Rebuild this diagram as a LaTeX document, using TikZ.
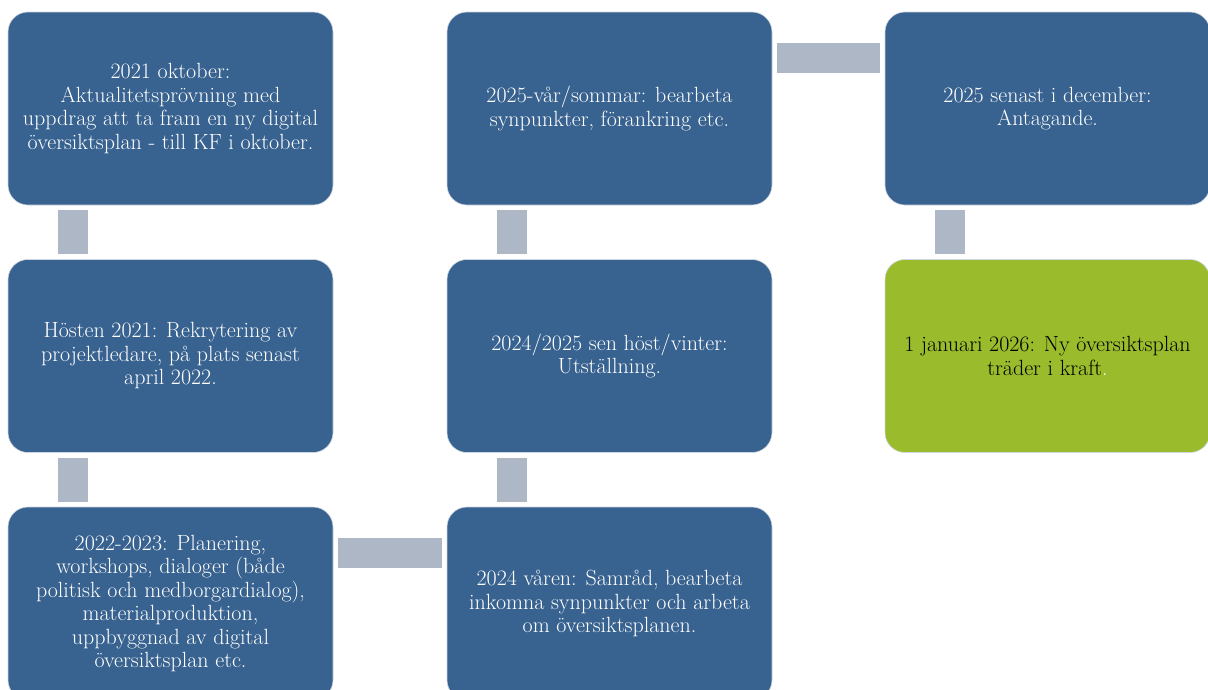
\documentclass[tikz,border=0pt]{standalone}
\usepackage{fontspec}
\definecolor{stepblue}{RGB}{56,98,143}
\definecolor{stepgreen}{RGB}{153,187,44}
\definecolor{bargray}{RGB}{173,183,198}
\definecolor{rimgray}{RGB}{205,213,224}
\tikzset{
  StepStyle/.style = { rectangle, rounded corners = 20pt, draw = rimgray,
                       line width = 0.6pt, fill = stepblue, text = white,
                       minimum width = 325pt, minimum height = 193pt,
                       inner sep = 0pt, align = center,
                       font = \fontsize{22}{23.5}\selectfont },
  BarStyle/.style = { draw = bargray, line width = 30pt, line cap = butt } }

\begin{document}
\begin{tikzpicture}[x=1pt,y=-1pt]
  \useasboundingbox (0,0) rectangle (1208,689);
  % first column
  \node[StepStyle] (b1) at (170.5,108.5) {2021 oktober:\\ Aktualitetsprövning med\\ uppdrag att ta fram en ny digital\\ översiktsplan - till KF i oktober.};
  \node[StepStyle] (b2) at (170.5,356) {Hösten 2021: Rekrytering av\\ projektledare, på plats senast\\ april 2022.};
  \node[StepStyle] (b3) at (170.5,603.5) {2022-2023: Planering,\\ workshops, dialoger (både\\ politisk och medborgardialog),\\ materialproduktion,\\ uppbyggnad av digital\\ översiktsplan etc.};

  % second column
  \node[StepStyle] (b4) at (609.5,603.5) {2024 våren: Samråd, bearbeta\\ inkomna synpunkter och arbeta\\ om översiktsplanen.};
  \node[StepStyle] (b5) at (609.5,356) {2024/2025 sen höst/vinter:\\ Utställning.};
  \node[StepStyle] (b6) at (609.5,108.5) {2025-vår/sommar: bearbeta\\ synpunkter, förankring etc.};

  % third column
  \node[StepStyle] (b7) at (1047.5,108.5) {2025 senast i december:\\ Antagande.};
  \node[StepStyle, fill = stepgreen, text = black] (b8) at (1047.5,356) {1 januari 2026: Ny översiktsplan\\ träder i kraft\textcolor{white}{.}};

  % bars
  \draw[BarStyle] ([shift={(65,5)}]b1.south west) -- ([shift={(65,-5)}]b2.north west);
  \draw[BarStyle] ([shift={(65,5)}]b2.south west) -- ([shift={(65,-5)}]b3.north west);
  \draw[BarStyle] ([shift={(5,46)}]b3.north east) -- ([shift={(-5,46)}]b4.north west);
  \draw[BarStyle] ([shift={(65,-5)}]b4.north west) -- ([shift={(65,5)}]b5.south west);
  \draw[BarStyle] ([shift={(65,-5)}]b5.north west) -- ([shift={(65,5)}]b6.south west);
  \draw[BarStyle] ([shift={(5,46)}]b6.north east) -- ([shift={(-5,46)}]b7.north west);
  \draw[BarStyle] ([shift={(65,5)}]b7.south west) -- ([shift={(65,-5)}]b8.north west);
\end{tikzpicture}
\end{document}
